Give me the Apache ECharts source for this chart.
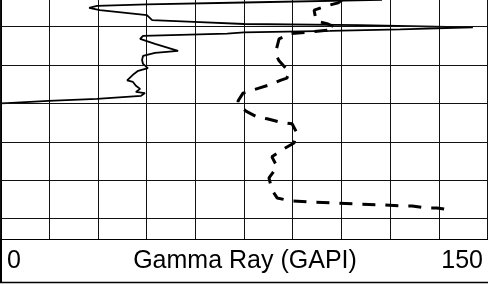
<!DOCTYPE html>
<html>
<head>
<meta charset="utf-8">
<script src="https://cdn.jsdelivr.net/npm/echarts@6/dist/echarts.min.js"></script>
<style>
  html, body { margin: 0; padding: 0; background: #fff; }
  #chart { width: 488px; height: 285px; }
</style>
</head>
<body>
<div id="chart"></div>
<script>
// solid curve (Gamma Ray)
const grDepth = [4503.0, 4503.7, 4504.2, 4504.6, 4505.1, 4505.7, 4507.0, 4508.3, 4508.8, 4509.3,
  4509.6, 4510.2, 4510.7, 4511.1, 4511.5, 4511.8, 4512.4, 4513.2, 4514.5, 4516.3,
  4516.8, 4517.6, 4518.7, 4519.7, 4520.8, 4521.5, 4522.3, 4524.0, 4524.4, 4525.4,
  4526.2, 4527.0, 4527.3, 4528.0, 4528.4, 4528.8, 4529.3, 4529.9, 4530.0];
const grValue = [117.5, 75.0, 45.1, 29.7, 27.3, 30.6, 45.1, 46.7, 61.4, 75.0,
  110.7, 145.5, 123.1, 101.5, 75.0, 69.8, 43.9, 43.0, 47.6, 54.7,
  47.6, 43.9, 43.6, 43.9, 45.4, 42.4, 41.1, 39.0, 40.8, 41.7,
  43.0, 41.7, 44.5, 43.3, 43.9, 29.7, 14.8, 2.0, 0];

// dashed curve
const dashDepth = [4503.0, 4503.8, 4504.6, 4505.7, 4508.5, 4509.3, 4510.1, 4510.9, 4511.4, 4511.8,
  4513.2, 4516.1, 4517.4, 4518.9, 4521.8, 4523.4, 4523.9, 4525.2, 4526.0, 4527.3,
  4529.3, 4530.1, 4532.0, 4533.5, 4534.0, 4534.8, 4535.3, 4537.7, 4540.3, 4542.1,
  4543.9, 4546.5, 4549.4, 4552.5, 4554.6, 4555.3, 4555.7, 4555.9, 4556.2, 4556.4,
  4556.7, 4556.7, 4557.2, 4557.2, 4557.7];
const dashValue = [105.2, 104.0, 100.3, 96.6, 97.2, 100.9, 103.0, 100.6, 95.0, 89.5,
  85.8, 84.9, 84.9, 85.8, 88.9, 88.2, 86.4, 82.7, 79.6, 74.7,
  73.2, 73.2, 75.6, 79.0, 82.1, 85.8, 89.8, 91.3, 90.4, 86.7,
  83.6, 85.2, 82.7, 83.6, 85.2, 88.9, 96.0, 102.7, 109.8, 117.2,
  123.7, 126.8, 131.1, 134.4, 138.1];

// depth grid lines
const depthLines = [4510, 4520, 4530, 4540, 4550, 4560];
const depthTop = 4503.05;
const depthBottom = 4565.3;

const trackMin = 0;
const trackMax = 150;
const trackTitle = 'Gamma Ray (GAPI)';

const chart = echarts.init(document.getElementById('chart'));

const font = '25px "Liberation Sans", Arial, sans-serif';

chart.setOption({
  animation: false,
  backgroundColor: '#fff',
  grid: { left: 0.5, right: 0.5, top: 0, bottom: 46 },
  xAxis: {
    type: 'value', min: trackMin, max: trackMax, interval: 15,
    axisLine: { show: false }, axisTick: { show: false }, axisLabel: { show: false },
    splitLine: { show: true, lineStyle: { color: '#111', width: 1 } }
  },
  yAxis: {
    type: 'value', inverse: true, min: depthTop, max: depthBottom,
    axisLine: { show: false }, axisTick: { show: false }, axisLabel: { show: false },
    splitLine: { show: false }
  },
  series: [
    {
      type: 'line', showSymbol: false, z: 3,
      lineStyle: { color: '#000', width: 1.8 },
      data: grDepth.map((d, i) => [grValue[i], d]),
      markLine: {
        silent: true, symbol: 'none', animation: false,
        label: { show: false },
        lineStyle: { color: '#111', width: 1, type: 'solid' },
        data: depthLines.map(d => ({ yAxis: d }))
      }
    },
    {
      type: 'line', showSymbol: false, z: 3,
      lineStyle: { color: '#000', width: 3, type: [13, 10] },
      data: dashDepth.map((d, i) => [dashValue[i], d])
    }
  ],
  graphic: [
    // borders of track and header
    { type: 'line', shape: { x1: 1, y1: 0, x2: 1, y2: 283 }, style: { stroke: '#000', lineWidth: 2 } },
    { type: 'line', shape: { x1: 487.5, y1: 0, x2: 487.5, y2: 239 }, style: { stroke: '#000', lineWidth: 1 } },
    { type: 'line', shape: { x1: 0, y1: 239.5, x2: 488, y2: 239.5 }, style: { stroke: '#000', lineWidth: 1 } },
    { type: 'line', shape: { x1: 0, y1: 282.5, x2: 488, y2: 282.5 }, style: { stroke: '#000', lineWidth: 1.5 } },
    { type: 'text', x: 7, y: 261, style: { text: String(trackMin), font: font, fill: '#000', textVerticalAlign: 'middle' } },
    { type: 'text', x: 245, y: 261, style: { text: trackTitle, font: font, fill: '#000', textAlign: 'center', textVerticalAlign: 'middle' } },
    { type: 'text', x: 483, y: 261, style: { text: String(trackMax), font: font, fill: '#000', textAlign: 'right', textVerticalAlign: 'middle' } }
  ]
});
</script>
</body>
</html>
